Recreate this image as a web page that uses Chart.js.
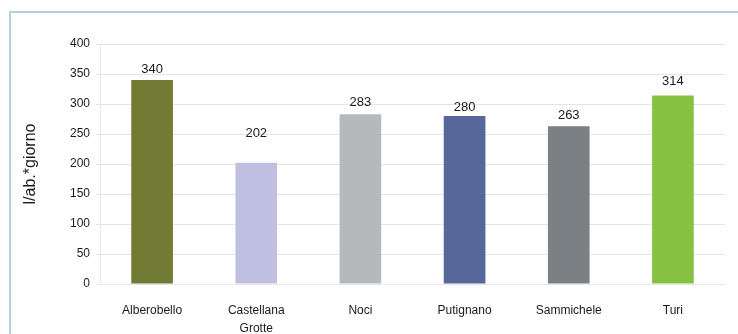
<!DOCTYPE html>
<html>
<head>
<meta charset="utf-8">
<script src="https://cdn.jsdelivr.net/npm/chart.js@4"></script>
<style>
  html, body { margin: 0; padding: 0; background: #fff; }
  #wrap { position: relative; width: 738px; height: 334px; overflow: hidden; }
  #frame {
    position: absolute; left: 9px; top: 11px; width: 760px; height: 360px;
    border-left: 2px solid #b4cfe0; border-top: 2px solid #b4cfe0;
  }
  #myChart { position: absolute; left: 0; top: 0; }
</style>
</head>
<body>
<div id="wrap">
  <div id="frame"></div>
  <canvas id="myChart" width="738" height="334"></canvas>
</div>
<script>
'use strict';

let comuni = ['Alberobello', ['Castellana', 'Grotte'], 'Noci', 'Putignano', 'Sammichele', 'Turi'];
let consumi = [340, 202, 283, 280, 263, 314];
let barColors = ['#717b33', '#bfc0e1', '#b6b9bc', '#56679a', '#7a8083', '#86c142'];
// extra lift of each value label above its bar, px
let labelLift = [3, 22, 4, 1, 3, 7];

let valueLabels = {
  id: 'valueLabels',
  afterDatasetsDraw(chart) {
    let ctx = chart.ctx;
    let meta = chart.getDatasetMeta(0);
    ctx.save();
    ctx.font = '13px "Liberation Sans", Arial, sans-serif';
    ctx.fillStyle = '#1a1a1a';
    ctx.textAlign = 'center';
    ctx.textBaseline = 'bottom';
    meta.data.forEach((bar, i) => {
      ctx.fillText(consumi[i], bar.x, bar.y - 1 - labelLift[i]);
    });
    ctx.restore();
  }
};

let ctx = document.getElementById('myChart').getContext('2d');
new Chart(ctx, {
  type: 'bar',
  data: {
    labels: comuni,
    datasets: [{
      data: consumi,
      backgroundColor: barColors,
      borderWidth: 0,
      barPercentage: 0.4,
      categoryPercentage: 1
    }]
  },
  options: {
    responsive: false,
    animation: false,
    layout: { padding: { left: 0, top: 44, right: 13, bottom: 0 } },
    plugins: {
      legend: { display: false },
      tooltip: { enabled: false }
    },
    scales: {
      x: {
        grid: { display: false },
        border: { color: '#e8e8e8' },
        ticks: {
          color: '#1a1a1a',
          padding: 9,
          maxRotation: 0,
          autoSkip: false,
          font: { family: '"Liberation Sans", Arial, sans-serif', size: 12, lineHeight: 1.55 }
        },
        afterFit(scale) { scale.height = 50; }
      },
      y: {
        min: 0,
        max: 400,
        ticks: {
          stepSize: 50,
          color: '#1a1a1a',
          padding: 6,
          font: { family: '"Liberation Sans", Arial, sans-serif', size: 12 }
        },
        grid: { color: '#e4e4e4', tickLength: 4 },
        border: { color: '#e8e8e8' },
        title: {
          display: true,
          text: 'l/ab.*giorno',
          color: '#1a1a1a',
          padding: { top: 21, bottom: 0 },
          font: { family: '"Liberation Sans", Arial, sans-serif', size: 16 }
        },
        afterFit(scale) { scale.width = 100; }
      }
    }
  },
  plugins: [valueLabels]
});
</script>
</body>
</html>
